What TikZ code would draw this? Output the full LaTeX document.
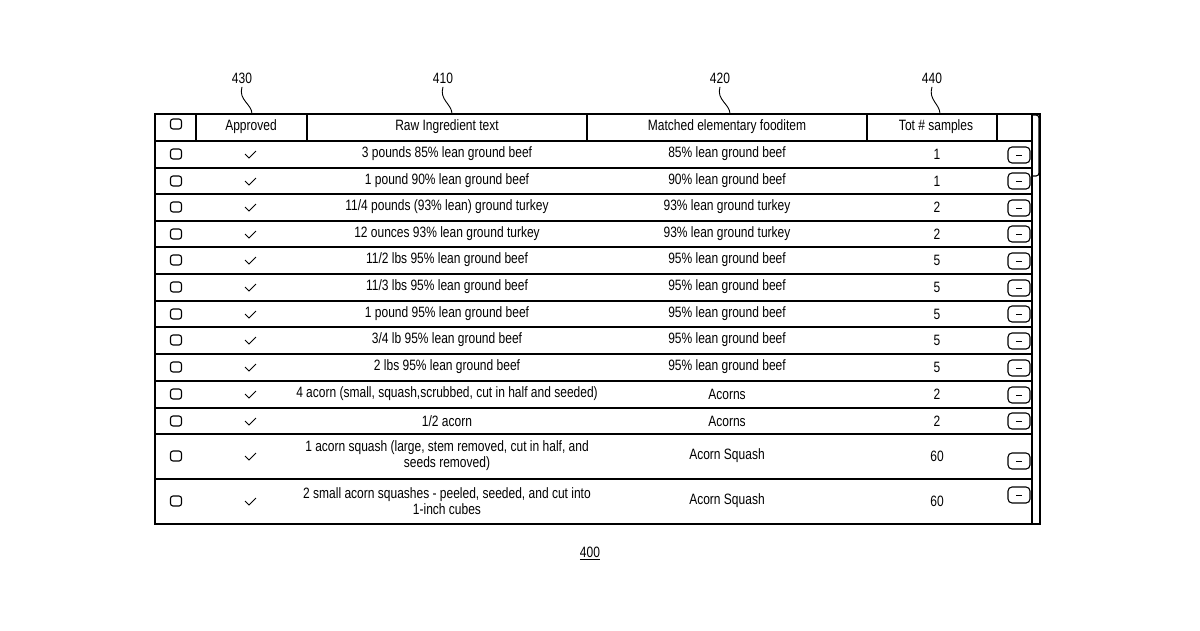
\documentclass[tikz,border=0pt]{standalone}
\usepackage{fontspec}
\setmainfont[FakeStretch=0.8]{Liberation Sans}
\begin{document}
\begin{tikzpicture}[x=1pt,y=-1pt,font=\fontsize{15}{16}\selectfont,
  box/.style={draw,line width=1.1pt,rounded corners=2.5pt,minimum width=11pt,minimum height=10pt,inner sep=0pt},
  btn/.style={draw,line width=1.1pt,rounded corners=4pt,minimum width=22pt,minimum height=16pt,inner sep=0pt},
  ln/.style={line width=1.1pt},
  lead/.style={line width=0.9pt}]
\useasboundingbox (0,0) rectangle (1200,630);
% outer
\draw[ln] (155,114) rectangle (1040,524);
\draw[ln] (1032,114) -- (1032,524);
\draw[ln,rounded corners=3pt] (1032,115) -- (1039,115) -- (1039,176) -- (1032,176);
% header
\foreach \x in {196,307,587,867,997} \draw[ln] (\x,114) -- (\x,141);
\node[box] (hb) at (176,124) {};
\node (h1) at (251,127) {Approved};
\node (h2) at (447,127) {Raw Ingredient text};
\node (h3) at (727,127) {Matched elementary fooditem};
\node (h4) at (936,127) {Tot \# samples};
% row lines
\foreach \y in {141,168,194,221,247,274,301,327,354,381,408,434,479} \draw[ln] (155,\y) -- (1032,\y);
% rows
\foreach [count=\i] \yc/\yb/\ra/\mb/\nn in {
 154/155/{3 pounds 85\% lean ground beef}/{85\% lean ground beef}/1,
 181/181/{1 pound 90\% lean ground beef}/{90\% lean ground beef}/1,
 207/208/{11/4 pounds (93\% lean) ground turkey}/{93\% lean ground turkey}/2,
 234/234/{12 ounces 93\% lean ground turkey}/{93\% lean ground turkey}/2,
 260/261/{11/2 lbs 95\% lean ground beef}/{95\% lean ground beef}/5,
 287/288/{11/3 lbs 95\% lean ground beef}/{95\% lean ground beef}/5,
 314/314/{1 pound 95\% lean ground beef}/{95\% lean ground beef}/5,
 340/341/{3/4 lb 95\% lean ground beef}/{95\% lean ground beef}/5,
 367/368/{2 lbs 95\% lean ground beef}/{95\% lean ground beef}/5,
 394/395/{4 acorn (small, squash,scrubbed, cut in half and seeded)}/{Acorns}/2,
 421/421/{1/2 acorn}/{Acorns}/2,
 456/461/{\parbox{300pt}{\centering\fontsize{15}{16}\selectfont 1 acorn squash (large, stem removed, cut in half, and seeds removed)}}/{Acorn Squash}/60,
 501/495/{\parbox{300pt}{\centering\fontsize{15}{16}\selectfont 2 small acorn squashes - peeled, seeded, and cut into 1-inch cubes}}/{Acorn Squash}/60}
{
 \node[box] (cb\i) at (176,\yc) {};
 \draw[line width=0.9pt] (245,\yc) -- (249,\yc+4) -- (256,\yc-3);
 \node (r\i) at (447,\yc) {\ra};
 \node (m\i) at (727,\yc) {\mb};
 \node (n\i) at (937,\yc) {\nn};
 \node[btn] (b\i) at (1019,\yb) {};
 \draw[line width=1pt] (1016,\yb) -- (1022,\yb);
}
% reference labels
\node (l430) at (242,78) {430};
\node (l410) at (443,78) {410};
\node (l420) at (720,78) {420};
\node (l440) at (932,78) {440};
\draw[lead] (l430.south) .. controls (238,100) and (252,104) .. (252,114);
\draw[lead] (l410.south) .. controls (439,100) and (452,104) .. (452,114);
\draw[lead] (l420.south) .. controls (716,100) and (730,104) .. (730,114);
\draw[lead] (l440.south) .. controls (928,100) and (940,104) .. (940,114);
\node (fig) at (590,553) {\underline{400}};
\end{tikzpicture}
\end{document}
